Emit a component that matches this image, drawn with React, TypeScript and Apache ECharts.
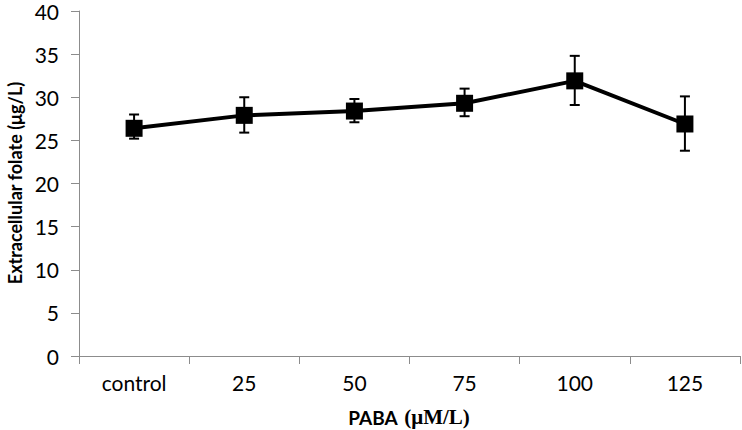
import React, { useEffect, useRef } from "react";
import * as echarts from "echarts";

const categories = ["control", "25", "50", "75", "100", "125"];
const folateMeans = [26.4, 27.9, 28.4, 29.3, 31.9, 26.9];
const errorUpper = [28.0, 30.0, 29.8, 31.0, 34.8, 30.1];
const errorLower = [25.2, 25.9, 27.1, 27.8, 29.1, 23.8];
const yTicks = { min: 0, max: 40, interval: 5 };

export default function App() {
  const ref = useRef<HTMLDivElement>(null);
  useEffect(() => {
    if (!ref.current) return;
    const chart = echarts.init(ref.current, null, { renderer: "svg" });
    const errData = categories.map((_, i) => [i, errorUpper[i], errorLower[i]]);
    chart.setOption({
      animation: false,
      backgroundColor: "#ffffff",
      grid: { left: 79, right: 2, top: 11, bottom: 74, containLabel: false },
      xAxis: {
        type: "category",
        data: categories,
        boundaryGap: true,
        axisLine: { lineStyle: { color: "#8c8c8c", width: 1 } },
        axisTick: { show: true, length: 8, inside: false, lineStyle: { color: "#8c8c8c" } },
        axisLabel: { color: "#000", fontFamily: "Lato", fontSize: 21, margin: 16 },
        splitLine: { show: false },
      },
      yAxis: {
        type: "value",
        min: yTicks.min,
        max: yTicks.max,
        interval: yTicks.interval,
        axisLine: { show: true, lineStyle: { color: "#8c8c8c", width: 1 } },
        axisTick: { show: true, length: 8, lineStyle: { color: "#8c8c8c" } },
        axisLabel: { color: "#000", fontFamily: "Lato", fontSize: 21, margin: 20 },
        splitLine: { show: false },
      },
      graphic: [
        {
          type: "text",
          x: 15,
          y: 183,
          rotation: Math.PI / 2,
          style: {
            text: "Extracellular folate (μg/L)",
            fontFamily: "Lato",
            fontWeight: "bold",
            fontSize: 18,
            fill: "#000",
            textAlign: "center",
            textVerticalAlign: "middle",
          },
        },
        {
          type: "text",
          x: 409,
          y: 417,
          style: {
            text: "{a|PABA}  {b|(μM/L)}",
            textAlign: "center",
            textVerticalAlign: "middle",
            rich: {
              a: { fontFamily: "Lato", fontWeight: "bold", fontSize: 19, fill: "#000" },
              b: { fontFamily: "Liberation Serif", fontWeight: "bold", fontSize: 21, fill: "#000" },
            },
          },
        },
      ],
      series: [
        {
          type: "line",
          data: folateMeans,
          symbol: "rect",
          symbolSize: 17,
          itemStyle: { color: "#000" },
          lineStyle: { color: "#000", width: 4 },
          z: 3,
        },
        {
          type: "custom",
          data: errData,
          z: 4,
          renderItem: (params: any, api: any) => {
            const x = api.value(0);
            const hi = api.coord([x, api.value(1)]);
            const lo = api.coord([x, api.value(2)]);
            const w = 5;
            const style = { stroke: "#000", lineWidth: 2 };
            return {
              type: "group",
              children: [
                { type: "line", shape: { x1: hi[0], y1: hi[1], x2: lo[0], y2: lo[1] }, style },
                { type: "line", shape: { x1: hi[0] - w, y1: hi[1], x2: hi[0] + w, y2: hi[1] }, style },
                { type: "line", shape: { x1: lo[0] - w, y1: lo[1], x2: lo[0] + w, y2: lo[1] }, style },
              ],
            };
          },
        },
      ],
    });
    return () => chart.dispose();
  }, []);
  return <div ref={ref} style={{ width: 742, height: 430, position: "absolute", left: 0, top: 0 }} />;
}
